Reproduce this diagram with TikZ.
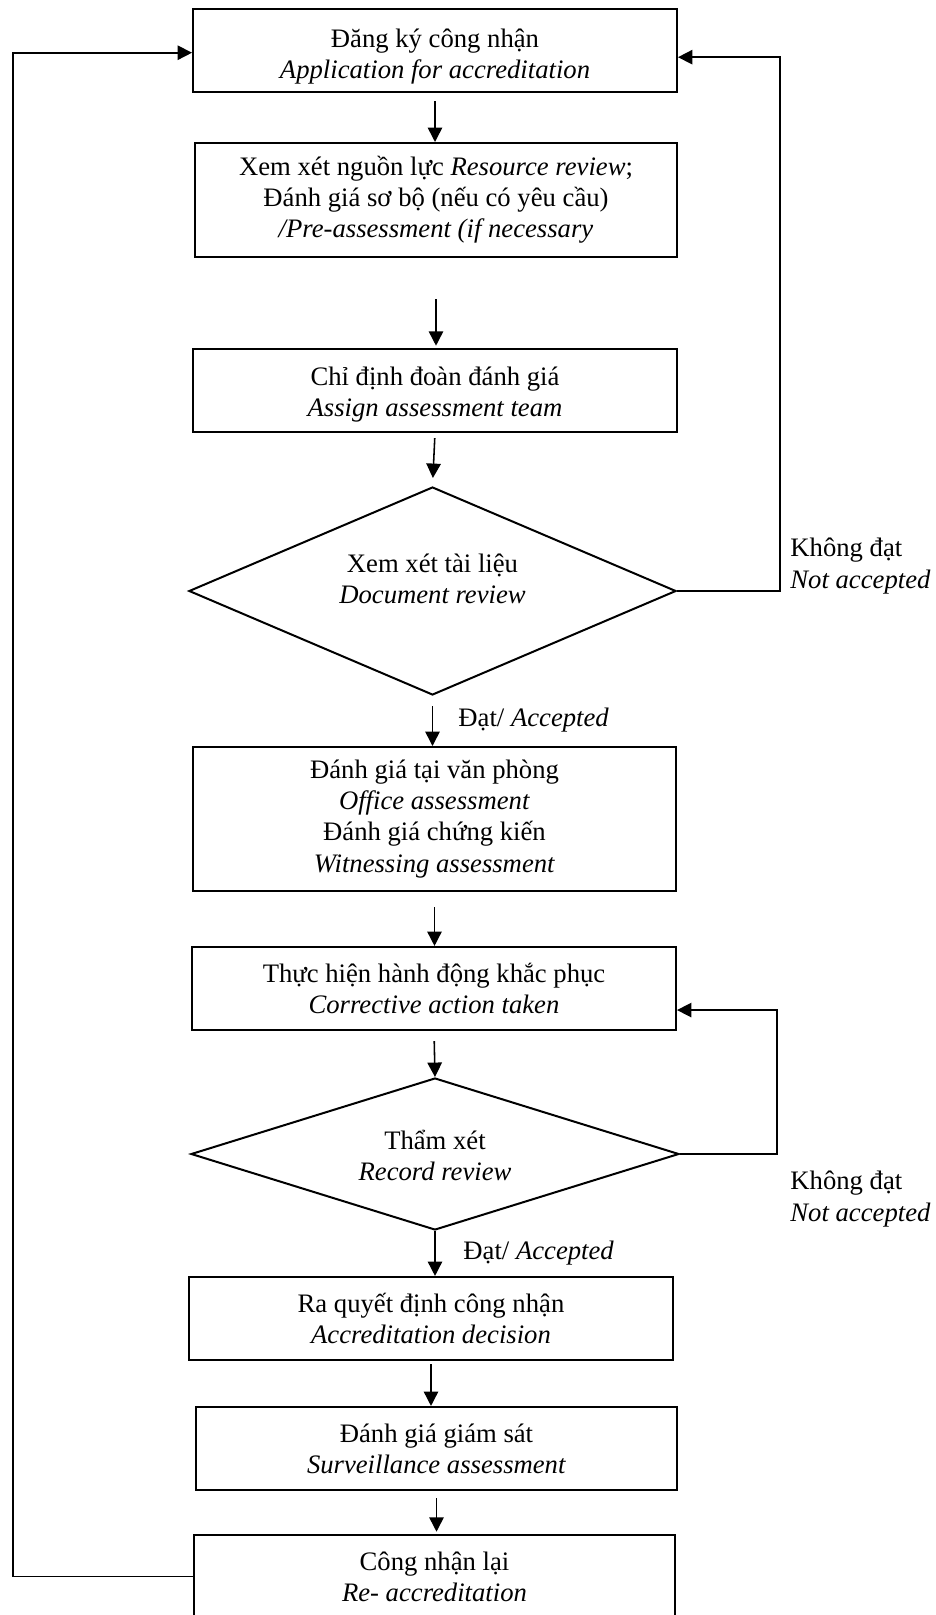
\documentclass[tikz,border=0pt]{standalone}
\usepackage{fontspec}
\setmainfont{Liberation Serif}
\usetikzlibrary{arrows.meta,shapes.geometric}
\tikzset{
  stepbox/.style={
    draw,
    line width=.9pt,
    align=center,
    inner sep=2pt,
    font=\fontsize{12}{14}\selectfont
  },
  decision/.style={stepbox,diamond,aspect=2.5,inner sep=0pt},
  textshift/.style={text height=#1,text depth=3pt},
  arrow/.style={-{Triangle[length=6.5pt,width=6.5pt]},line width=.7pt},
  note/.style={align=left,inner sep=0pt,font=\fontsize{12}{14}\selectfont}
}

\begin{document}
\begin{tikzpicture}[x=.45pt,y=-.45pt]
  \useasboundingbox (0,0) rectangle (935,1615);

  % Main sequence of steps, top to bottom.
  \node[stepbox,textshift=28pt,minimum width=217.8pt,minimum height=37.4pt] (apply) at (435,50.5)
    {Đăng ký công nhận\\\textit{Application for accreditation}};
  \node[stepbox,minimum width=216.9pt,minimum height=51.3pt] (resource) at (436,200)
    {Xem xét nguồn lực \textit{Resource review};\\Đánh giá sơ bộ (nếu có yêu cầu)\\\textit{/Pre-assessment (if necessary}};
  \node[stepbox,textshift=26.6pt,minimum width=217.8pt,minimum height=37.4pt] (assign) at (435,390.5)
    {Chỉ định đoàn đánh giá\\\textit{Assign assessment team}};
  \node[decision,textshift=14pt,minimum width=219.2pt,minimum height=93.6pt] (docreview) at (432.5,591)
    {Xem xét tài liệu\\\textit{Document review}};
  \node[stepbox,minimum width=217.4pt,minimum height=64.8pt] (office) at (434.5,819)
    {Đánh giá tại văn phòng\\\textit{Office assessment}\\Đánh giá chứng kiến\\\textit{Witnessing assessment}};
  \node[stepbox,minimum width=217.8pt,minimum height=37.4pt] (corrective) at (434,988.5)
    {Thực hiện hành động khắc phục\\\textit{Corrective action taken}};
  \node[decision,textshift=26.6pt,minimum width=219.6pt,minimum height=68.4pt] (recordreview) at (435,1154)
    {Thẩm xét\\\textit{Record review}};
  \node[stepbox,minimum width=217.8pt,minimum height=37.4pt] (decide) at (431,1318.5)
    {Ra quyết định công nhận\\\textit{Accreditation decision}};
  \node[stepbox,minimum width=216.5pt,minimum height=37.4pt] (surveil) at (436.5,1448.5)
    {Đánh giá giám sát\\\textit{Surveillance assessment}};
  \node[stepbox,minimum width=216.5pt,minimum height=37.4pt] (reaccr) at (434.5,1576.5)
    {Công nhận lại\\\textit{Re- accreditation}};

  % Downward arrows between steps.
  \draw[arrow,shorten <=3.6pt] (apply.south) -- (apply.south |- resource.north);
  \draw[arrow,shorten <=18.5pt,shorten >=1pt] (resource.south) -- (resource.south |- assign.north);
  \draw[arrow,shorten <=2.3pt,shorten >=3.6pt] (assign.south) -- (docreview.north);
  \draw[arrow,shorten <=4.5pt] (docreview.south) -- (docreview.south |- office.north);
  \draw[arrow,shorten <=6.8pt] (office.south) -- (office.south |- corrective.north);
  \draw[arrow,shorten <=4.5pt] (corrective.south) -- (recordreview.north);
  \draw[arrow] (recordreview.south) -- (recordreview.south |- decide.north);
  \draw[arrow,shorten <=1.4pt] (decide.south) -- (decide.south |- surveil.north);
  \draw[arrow,shorten <=3.2pt,shorten >=1pt] (surveil.south) -- (surveil.south |- reaccr.north);

  \node[note,anchor=west] (pass1) at (458,720) {Đạt/ \textit{Accepted}};
  \node[note,anchor=west] (pass2) at (463,1253) {Đạt/ \textit{Accepted}};

  % Feedback loops.
  \draw[arrow] (docreview.east) -- ++(103,0) |- ([yshift=-3pt]apply.east);
  \draw[arrow] (recordreview.east) -- ++(97,0) |- ([yshift=-9.7pt]corrective.east);
  \draw[arrow] (reaccr.west) -- ++(-180,0) |- ([yshift=-1pt]apply.west);

  \node[note,anchor=west] (fail1) at (790,566) {Không đạt\\\textit{Not accepted}};
  \node[note,anchor=west] (fail2) at (790,1199) {Không đạt\\\textit{Not accepted}};
\end{tikzpicture}
\end{document}
